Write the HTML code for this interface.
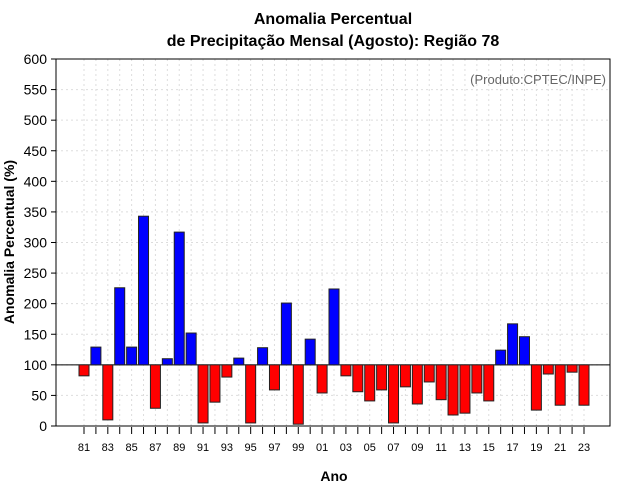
<!DOCTYPE html>
<html><head><meta charset="utf-8"><style>body{margin:0;background:#fff}svg{display:block}</style></head>
<body>
<svg id="c" width="640" height="500" xmlns="http://www.w3.org/2000/svg" font-family="Liberation Sans, sans-serif"></svg>
<script>
const startYear = 1981;
const values = [82,129,10,226,129,343,29,110,317,152,5,39,80,111,5,128,59,201,3,142,54,224,82,56,41,59,5,64,36,72,43,18,21,54,41,124,167,146,26,85,34,88,34];
const yTicks = [0,50,100,150,200,250,300,350,400,450,500,550,600];
const baseline = 100;
const L=56,R=610,T=59,B=426;
const ns='http://www.w3.org/2000/svg';
const svg=document.getElementById('c');
function y(v){return B-(v/600)*(B-T);}
function x(i){return 84+i*(500/42);}
function mk(t,a,txt){const e=document.createElementNS(ns,t);for(const k in a)e.setAttribute(k,a[k]);if(txt!==undefined)e.textContent=txt;svg.appendChild(e);return e;}
// grid
yTicks.forEach(v=>{
  const g=mk('line',{x1:L,x2:R,y1:y(v),y2:y(v),stroke:'#ddd','stroke-dasharray':'2,3'});
  
  
  const tk=mk('line',{x1:L-5,x2:L,y1:y(v),y2:y(v),stroke:'#000'});
  
  
  const t=mk('text',{x:L-9,y:y(v)+5,'text-anchor':'end','font-size':14},String(v));
  
  
});
values.forEach((v,i)=>{
  const g=mk('line',{x1:x(i),x2:x(i),y1:T,y2:B,stroke:'#ddd','stroke-dasharray':'2,3'});
  
  
});
mk('line',{x1:L,x2:R,y1:y(baseline),y2:y(baseline),stroke:'#000'});
values.forEach((v,i)=>{
  const top=Math.min(y(v),y(baseline)),h=Math.abs(y(v)-y(baseline));
  const r=mk('rect',{x:x(i)-5,y:top,width:10,height:h,fill:v>=baseline?'#0000ff':'#ff0000',stroke:'#222','stroke-width':1});
  
  
  const tk=mk('line',{x1:x(i),x2:x(i),y1:B+1,y2:B+8,stroke:'#000'});
  
  
  if(i%2===0){
    const t=mk('text',{x:x(i),y:B+25,'text-anchor':'middle','font-size':11},String((startYear+i)%100).padStart(2,'0'));
    
    
  }
});
const box=mk('rect',{x:L,y:T,width:R-L,height:B-T,fill:'none',stroke:'#000'});


let e;
e=mk('text',{x:333,y:24,'text-anchor':'middle','font-size':16,'font-weight':'bold'},'Anomalia Percentual');

e=mk('text',{x:333,y:46,'text-anchor':'middle','font-size':16,'font-weight':'bold'},'de Precipitação Mensal (Agosto): Região 78');

e=mk('text',{x:606,y:84,'text-anchor':'end','font-size':13,fill:'#666'},'(Produto:CPTEC/INPE)');

e=mk('text',{x:334,y:481,'text-anchor':'middle','font-size':14,'font-weight':'bold'},'Ano');

e=mk('text',{x:14,y:242,'text-anchor':'middle','font-size':14,'font-weight':'bold',transform:'rotate(-90 14 242)'},'Anomalia Percentual (%)');

</script>
</body></html>
